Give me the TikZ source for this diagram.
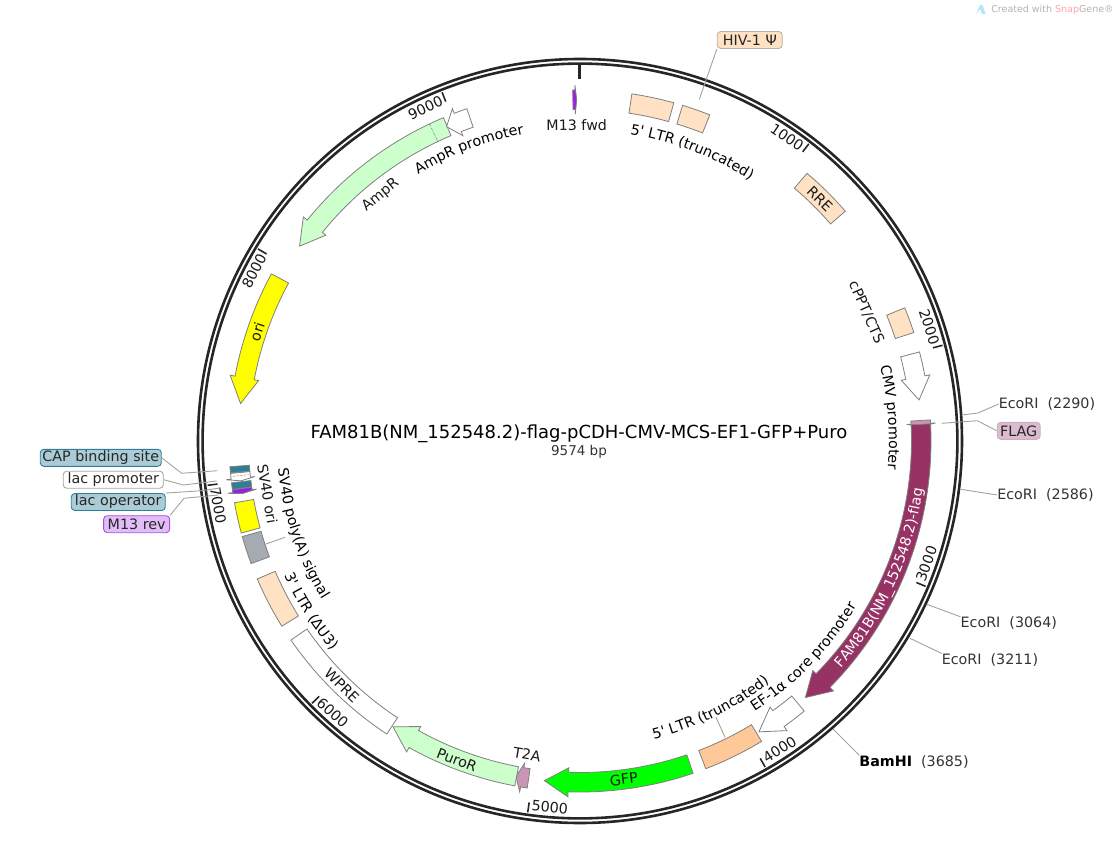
\documentclass[tikz,border=0pt]{standalone}
\usepackage{fontspec}
\setmainfont[Ligatures=TeXOff]{DejaVu Sans}
\usetikzlibrary{decorations.text}
\def\mapfont{\fontsize{14.3}{17}\selectfont}
\def\sitegap{\hspace{9pt}}
\definecolor{ringcol}{HTML}{262626}
\definecolor{edgecol}{HTML}{808080}
\definecolor{leadcol}{HTML}{A3A399}
\definecolor{ltrcol}{HTML}{FFE2C4}
\definecolor{ltrtwo}{HTML}{FFC899}
\definecolor{mintcol}{HTML}{CCFFCC}
\definecolor{flagcol}{HTML}{C896B4}
\definecolor{genecol}{HTML}{963264}
\definecolor{tealcol}{HTML}{2D7F99}
\definecolor{purpcol}{HTML}{9A1FE0}
\definecolor{polycol}{HTML}{A6ABB2}
\definecolor{oricol}{HTML}{FFFF00}
\definecolor{gfpcol}{HTML}{00FF00}
\tikzset{
	feat/.style={draw=edgecol, line width=0.8pt, fill=#1},
	leader/.style={draw=leadcol, line width=0.9pt},
	tag/.style={rounded corners=3.5pt, line width=0.9pt, inner sep=0pt, minimum height=17pt, font=\mapfont, text=black!85},
	sitelabel/.style={inner sep=0pt, font=\mapfont, text=black!80},
	ticklabel/.style={inner sep=0pt, font=\mapfont, text=black!90},
	maptext/.style={inner sep=0pt, font=\mapfont, text=black!90}
}
\def\featbox[#1](#2:#3){\draw[#1] (90-#2:331.5pt) arc (90-#2:90-#3:331.5pt) -- (90-#3:351pt) arc (90-#3:90-#2:351pt) -- cycle;}
\def\featarrow[#1](#2:#3:#4){\draw[#1] (90-#2:351pt) arc (90-#2:90-#3:351pt) -- (90-#3:356pt) -- (90-#4:341.5pt) -- (90-#3:327pt) -- (90-#3:331.5pt) arc (90-#3:90-#2:331.5pt) -- cycle;}
\def\cwlabel[#1](#2:#3)#4{\path[decorate, decoration={text along path, text align=center, text={|\mapfont #1|#4}}] (130-#2:#3pt) arc (130-#2:50-#2:#3pt);}
\def\ccwlabel[#1](#2:#3)#4{\path[decorate, decoration={text along path, text align=center, text={|\mapfont #1|#4}}] (50-#2:#3pt) arc (50-#2:130-#2:#3pt);}
\def\maplabel(#1:#2:#3)#4#5{\node[maptext, rotate=#3] (#4) at (90-#1:#2pt) {#5};}
\def\tickmark(#1:#2)#3{\draw[ringcol, line width=1.6pt] (90-#1:375pt) -- (90-#1:365pt); \node[ticklabel, rotate=#2] (tick#3) at (93.3-#1:367.5pt) {#3};}

\begin{document}
\begin{tikzpicture}[x=1pt, y=1pt]
	\useasboundingbox (-580, -414) rectangle (540, 441);

	%%%%% RING %%%%%
	\draw[ringcol, line width=2.6pt] (0, 0) circle (382pt);
	\draw[ringcol, line width=2.6pt] (0, 0) circle (377.4pt);
	\draw[ringcol, line width=3pt] (90:376pt) -- (90:362pt);
	\tickmark(37.60:-34.2){1000}
	\tickmark(75.21:-71.9){2000}
	\tickmark(112.81:70){3000}
	\tickmark(150.41:32.6){4000}
	\tickmark(188.01:-4.8){5000}
	\tickmark(225.61:-42.6){6000}
	\tickmark(263.22:-79.9){7000}
	\tickmark(300.82:62.4){8000}
	\tickmark(338.42:25){9000}

	%%%%% FEATURES %%%%%
	\featarrow[feat=purpcol](358.8:359.18:359.45)
	\featbox[feat=ltrcol](8.5:15.5)
	\featbox[feat=ltrcol](17:21.7)
	\featbox[feat=ltrcol](40.3:49.1)
	\featbox[feat=ltrcol](67.7:72)
	\featarrow[feat=white](75.3:79.3:83.1)
	\featarrow[feat=flagcol](86.55:87.1:87.5)
	\featarrow[feat=genecol](87.2:134.6:138.7)
	\featarrow[feat=white](140.3:144.45:148.4)
	\featbox[feat=ltrtwo](148.85:159)
	\featarrow[feat=gfpcol](161.2:181.95:186)
	\featarrow[feat=flagcol](188.65:189.75:190.8)
	\featarrow[feat=mintcol](190.7:209.15:213.2)
	\featbox[feat=white](213.4:235.45)
	\featbox[feat=ltrcol](238.15:246.85)
	\featbox[feat=polycol](249.55:254.2)
	\featbox[feat=oricol](254.8:259.85)
	\featarrow[feat=purpcol](262:261.55:261.15)
	\featbox[feat=tealcol](262.05:263.15)
	\featarrow[feat=white](264.7:263.75:263.3)
	\draw[densely dotted] (90-264.2:333pt) -- (90-264.2:350pt);
	\featbox[feat=tealcol](264.8:265.8)
	\featarrow[feat=oricol](298.45:280.65:276.3)
	\featarrow[feat=mintcol](337.1:309:304.8)
	\draw[densely dotted] (90-334.6:332pt) -- (90-334.6:351pt);
	\featarrow[feat=white](341.2:339:337)

	%%%%% FEATURE NAMES %%%%%
	\maplabel(359.4:316:0.6){mfwdname}{M13 fwd}
	\cwlabel[](21.2:311){5' LTR (truncated)}
	\maplabel(44.7:341:-44.7){rrename}{RRE}
	\maplabel(65.8:314:-65.8){cpptname}{cPPT/CTS}
	\cwlabel[](85.7:309){CMV promoter}
	\ccwlabel[\color{white}](114.5:346){FAM81B(NM{\_}152548.2)-flag}
	\ccwlabel[](134:322){EF-1α core promoter}
	\ccwlabel[](154:307){5' LTR (truncated)}
	\maplabel(172.6:341:7.4){gfpname}{GFP}
	\maplabel(189.6:317.6:-9.6){ttaname}{T2A}
	\maplabel(201.1:342:-21.1){puroname}{PuroR}
	\maplabel(224.3:341:-44.3){wprename}{WPRE}
	\ccwlabel[](237.7:325){3' LTR (ΔU3)}
	\ccwlabel[](251.6:303){SV40 poly(A) signal}
	\maplabel(260.4:317:-80.4){svoriname}{SV40 ori}
	\maplabel(288.7:341:71.3){oriname}{ori}
	\maplabel(321:316.6:39){ampname}{AmpR}
	\cwlabel[](339.2:312){AmpR promoter}

	%%%%% CALLOUTS %%%%%
	\node[sitelabel] (ecoA) at (467, 37) {EcoRI\sitegap(2290)};
	\coordinate (ecoAbend) at (398, 28);
	\coordinate (ecoAend) at (381.7, 26);
	\draw[leader] (ecoA.west) -- (ecoAbend) -- (ecoAend);

	\node[tag, fill=flagcol!65, draw=flagcol!80, minimum width=43pt] (flagtag) at (438.7, 10.2) {FLAG};
	\coordinate (flagbend) at (397.3, 20.3);
	\coordinate (flagend) at (361.7, 17.7);
	\draw[leader] (flagtag.west) -- (flagbend) -- (flagend);

	\node[sitelabel] (ecoB) at (465.5, -54) {EcoRI\sitegap(2586)};
	\coordinate (ecoBend) at (380.7, -48.3);
	\draw[leader] (ecoB.west) -- (ecoBend);

	\node[sitelabel] (ecoC) at (428.8, -182.3) {EcoRI\sitegap(3064)};
	\coordinate (ecoCend) at (346.7, -163.3);
	\draw[leader] (ecoC.north west) -- (ecoCend);

	\node[sitelabel] (ecoD) at (410, -219) {EcoRI\sitegap(3211)};
	\coordinate (ecoDend) at (330, -197.3);
	\draw[leader] (ecoD.north west) -- (ecoDend);

	\node[sitelabel] (bamsite) at (334, -320.7) {\textcolor{black}{\bfseries BamHI}\sitegap(3685)};
	\coordinate (bamend) at (253.3, -288.3);
	\draw[leader] (bamsite.north west) -- (bamend);

	\node[tag, fill=ltrcol, draw=ltrcol!55!black!60, minimum width=65pt] (hivtag) at (169.8, 401) {HIV-1 Ψ};
	\coordinate (hivend) at (119.3, 341.7);
	\draw[leader] (hivtag.south west) -- (hivend);

	\node[tag, fill=tealcol!40, draw=tealcol, minimum width=121pt] (captag) at (-479.2, -16.8) {CAP binding site};
	\coordinate (capbend) at (-398.3, -32.3);
	\coordinate (capend) at (-362.7, -29.7);
	\draw[leader] (captag.east) -- (capbend) -- (capend);

	\node[tag, fill=white, draw=edgecol!70, minimum width=100pt] (lacptag) at (-466.7, -38.7) {lac promoter};
	\coordinate (lacpbend) at (-396.7, -44);
	\coordinate (lacpend) at (-363.3, -40);
	\draw[leader] (lacptag.east) -- (lacpbend) -- (lacpend);

	\node[tag, fill=tealcol!40, draw=tealcol, minimum width=94pt] (lacotag) at (-461.7, -61) {lac operator};
	\coordinate (lacobend) at (-378.3, -49.7);
	\coordinate (lacoend) at (-360, -47);
	\draw[leader] (lacotag.north east) -- (lacobend) -- (lacoend);

	\node[tag, fill=purpcol!30, draw=purpcol!80, minimum width=66pt] (revtag) at (-443.3, -83.2) {M13 rev};
	\coordinate (revbend) at (-396, -57.3);
	\coordinate (revend) at (-361.7, -54);
	\draw[leader] (revtag.north east) -- (revbend) -- (revend);

	\coordinate (ltrleadA) at (136, -276.3);
	\coordinate (ltrleadB) at (145, -296.3);
	\draw[leader] (ltrleadA) -- (ltrleadB);
	\coordinate (polyleadA) at (-314, -103);
	\coordinate (polyleadB) at (-295, -96.3);
	\draw[leader] (polyleadA) -- (polyleadB);

	%%%%% TITLE %%%%%
	\node[inner sep=0pt, font=\fontsize{18}{21}\selectfont] (maptitle) at (-1, 7) {FAM81B(NM\_152548.2)-flag-pCDH-CMV-MCS-EF1-GFP+Puro};
	\node[inner sep=0pt, font=\fontsize{13.5}{16}\selectfont, text=black!80] (mapsize) at (-1, -11) {9574 bp};

	%%%%% WATERMARK %%%%%
	\fill[cyan!30] (396, 427) -- (400, 436) -- (402.5, 436) -- (405.5, 427) -- (402, 427) -- (400, 432) -- cycle;
	\node[inner sep=0pt, font=\fontsize{9.5}{12}\selectfont, text=black!30] (stamp) at (472.5, 431) {Created with \textcolor{red!35}{Snap}Gene®};
\end{tikzpicture}
\end{document}
